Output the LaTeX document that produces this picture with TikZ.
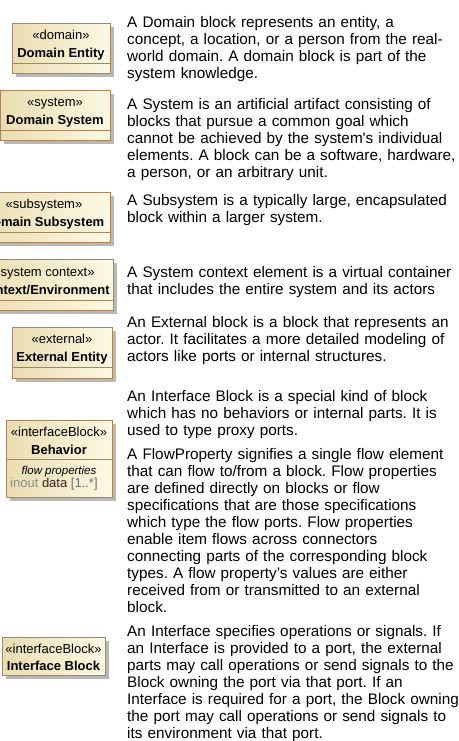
\documentclass[tikz,border=0pt]{standalone}
\usepackage{fontspec}
\setmainfont{Liberation Sans}
\usetikzlibrary{shadows}
\definecolor{blockedge}{RGB}{168,134,92}
\definecolor{blockdark}{RGB}{234,221,176}
\definecolor{blocklight}{RGB}{252,249,228}
\definecolor{dirgray}{RGB}{140,140,140}
\definecolor{typename}{RGB}{60,30,30}
\definecolor{multgray}{RGB}{110,110,110}
\frenchspacing

\begin{document}
\begin{tikzpicture}[x=1pt,y=1pt,
  blockbox/.style={draw=blockedge, line width=1.1pt, left color=blockdark,
    right color=blocklight, inner sep=0pt, anchor=north west,
    drop shadow={shadow xshift=3pt, shadow yshift=-3pt, fill=black, opacity=0.28}},
  compline/.style={draw=blockedge, line width=0.8pt},
  stereo/.style={font=\fontsize{13}{15}\selectfont, inner sep=0pt, anchor=base},
  bname/.style={font=\bfseries\fontsize{13}{15}\selectfont, inner sep=0pt, anchor=base},
  compttl/.style={font=\itshape\fontsize{11.5}{13}\selectfont, inner sep=0pt, anchor=base},
  propline/.style={font=\fontsize{13}{15}\selectfont, inner sep=0pt, anchor=base west},
  desc/.style={font=\fontsize{15.3}{17}\selectfont, align=left, text width=420pt,
    inner sep=0pt, anchor=base west}
]
\clip (0,-741) rectangle (458,0);
\fill[white] (0,-741) rectangle (458,0);

% --- domain entity
\node[blockbox, minimum width=98pt, minimum height=50pt] (entity) at (12,-23) {};
\draw[compline] ([yshift=-40pt]entity.north west) -- ([yshift=-40pt]entity.north east);
\node[stereo] (entityst) at (61,-39.5) {«domain»};
\node[bname] (entitynm) at (61,-57.5) {Domain Entity};

% --- domain system
\node[blockbox, minimum width=110pt, minimum height=50pt] (system) at (0,-90) {};
\draw[compline] ([yshift=-40pt]system.north west) -- ([yshift=-40pt]system.north east);
\node[stereo] (systemst) at (55,-106.5) {«system»};
\node[bname] (systemnm) at (55,-124.5) {Domain System};

% --- domain subsystem
\node[blockbox, minimum width=132pt, minimum height=50pt] (subsys) at (-22,-192) {};
\draw[compline] ([yshift=-40pt]subsys.north west) -- ([yshift=-40pt]subsys.north east);
\node[stereo] (subsysst) at (44,-208.5) {«subsystem»};
\node[bname] (subsysnm) at (44,-226.5) {Domain Subsystem};

% --- system context
\node[blockbox, minimum width=138pt, minimum height=51pt] (context) at (-25,-259) {};
\draw[compline] ([yshift=-41pt]context.north west) -- ([yshift=-41pt]context.north east);
\node[stereo] (contextst) at (44,-276.5) {«system context»};
\node[bname] (contextnm) at (44,-294.5) {Context/Environment};

% --- external entity
\node[blockbox, minimum width=100pt, minimum height=51pt] (extern) at (12,-327) {};
\draw[compline] ([yshift=-40pt]extern.north west) -- ([yshift=-40pt]extern.north east);
\node[stereo] (externst) at (62,-343.5) {«external»};
\node[bname] (externnm) at (62,-361.5) {External Entity};

% --- behavior interface block with flow properties
\node[blockbox, minimum width=106pt, minimum height=77pt] (behav) at (6,-420) {};
\draw[compline] ([yshift=-39pt]behav.north west) -- ([yshift=-39pt]behav.north east);
\node[stereo] (behavst) at (59,-436.5) {«interfaceBlock»};
\node[bname] (behavnm) at (59,-454.5) {Behavior};
\node[compttl] (behavfp) at (59,-474) {flow properties};
\node[propline] (behavdata) at (10,-487.5)
  {\textcolor{dirgray}{inout} \textcolor{typename}{data} \textcolor{multgray}{[1..*]}};

% --- interface block
\node[blockbox, minimum width=103pt, minimum height=38pt] (iface) at (2,-637) {};
\node[stereo] (ifacest) at (53.5,-653.5) {«interfaceBlock»};
\node[bname] (ifacenm) at (53.5,-670.5) {Interface Block};

% --- descriptions
\node[desc] (d1) at (127,-28) {A Domain block represents an entity, a\\
concept, a location, or a person from the real-\\
world domain. A domain block is part of the\\
system knowledge.};

\node[desc] (d2) at (127,-110) {A System is an artificial artifact consisting of\\
blocks that pursue a common goal which\\
cannot be achieved by the system\textquotesingle s individual\\
elements. A block can be a software, hardware,\\
a person, or an arbitrary unit.};

\node[desc] (d3) at (127,-205) {A Subsystem is a typically large, encapsulated\\
block within a larger system.};

\node[desc] (d4) at (127,-277) {A System context element is a virtual container\\
that includes the entire system and its actors};

\node[desc] (d5) at (127,-327) {An External block is a block that represents an\\
actor. It facilitates a more detailed modeling of\\
actors like ports or internal structures.};

\node[desc] (d6) at (127,-401) {An Interface Block is a special kind of block\\
which has no behaviors or internal parts. It is\\
used to type proxy ports.};

\node[desc] (d7) at (127,-459) {A FlowProperty signifies a single flow element\\
that can flow to/from a block. Flow properties\\
are defined directly on blocks or flow\\
specifications that are those specifications\\
which type the flow ports. Flow properties\\
enable item flows across connectors\\
connecting parts of the corresponding block\\
types. A flow property’s values are either\\
received from or transmitted to an external\\
block.};

\node[desc] (d8) at (127,-636) {An Interface specifies operations or signals. If\\
an Interface is provided to a port, the external\\
parts may call operations or send signals to the\\
Block owning the port via that port. If an\\
Interface is required for a port, the Block owning\\
the port may call operations or send signals to\\
its environment via that port.};
\end{tikzpicture}
\end{document}
